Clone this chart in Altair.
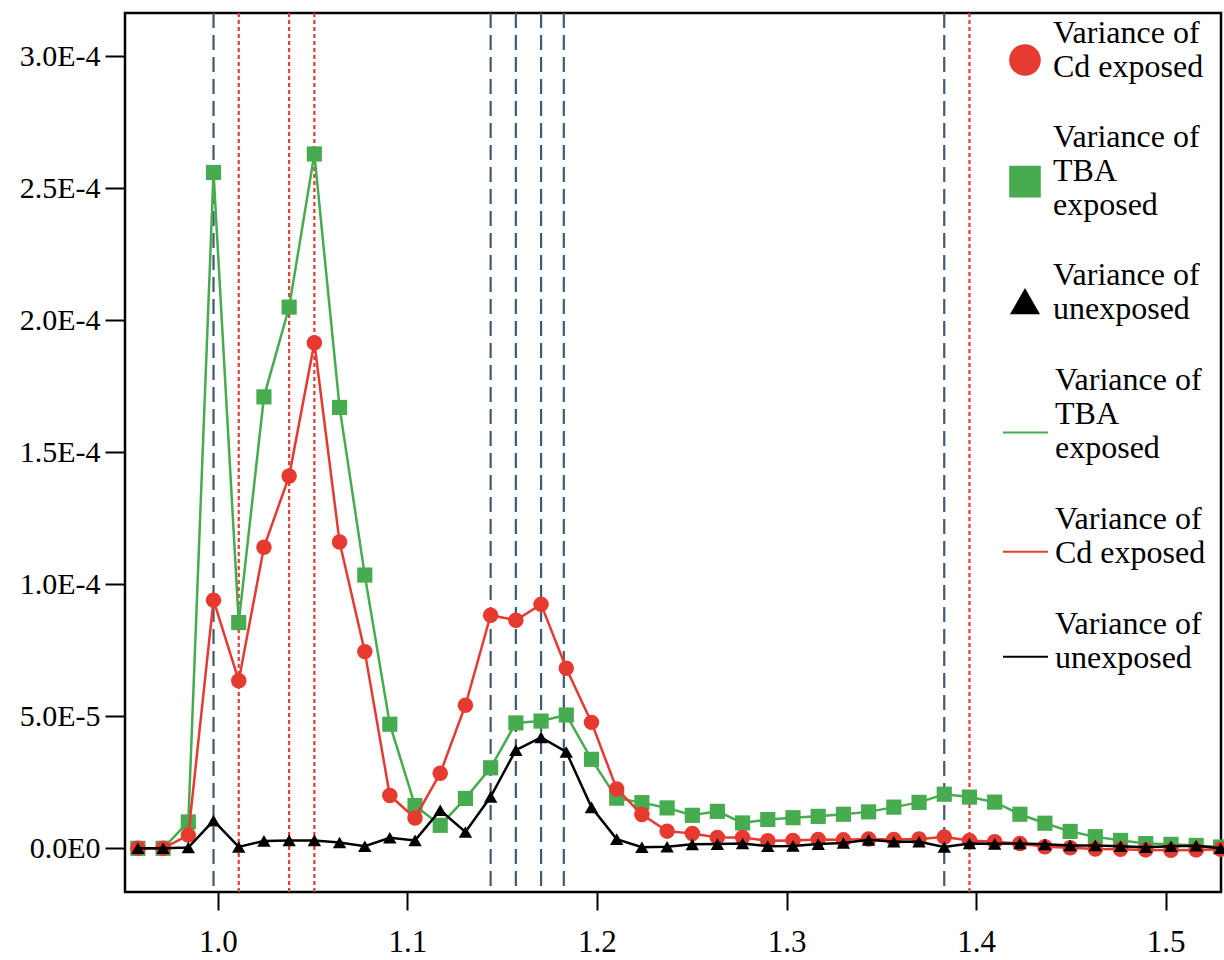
import altair as alt
import pandas as pd

# m/z ratio positions of the sampled points
x_vals = [0.9578, 0.9711, 0.9844, 0.9977, 1.0110, 1.0243, 1.0376, 1.0509, 1.0642, 1.0775,
          1.0907, 1.1040, 1.1173, 1.1306, 1.1439, 1.1572, 1.1705, 1.1838, 1.1971, 1.2104,
          1.2237, 1.2370, 1.2503, 1.2635, 1.2768, 1.2901, 1.3034, 1.3167, 1.3300, 1.3433,
          1.3566, 1.3699, 1.3832, 1.3965, 1.4098, 1.4231, 1.4363, 1.4496, 1.4629, 1.4762,
          1.4895, 1.5028, 1.5161, 1.5290]

# variances, in units of 1e-5
tba_e5 = [0.0, 0.0, 1.0, 25.6, 8.55, 17.1, 20.5, 26.3, 16.7, 10.35,
          4.7, 1.62, 0.87, 1.89, 3.05, 4.75, 4.82, 5.05, 3.37, 1.9,
          1.73, 1.53, 1.25, 1.4, 0.96, 1.09, 1.16, 1.21, 1.29, 1.38,
          1.56, 1.74, 2.05, 1.94, 1.75, 1.29, 0.95, 0.64, 0.44, 0.3,
          0.18, 0.15, 0.11, 0.05]
cd_e5 = [0.0, 0.0, 0.5, 9.4, 6.35, 11.4, 14.1, 19.15, 11.6, 7.45,
         2.0, 1.15, 2.84, 5.42, 8.83, 8.64, 9.24, 6.82, 4.77, 2.25,
         1.28, 0.65, 0.56, 0.41, 0.41, 0.29, 0.3, 0.33, 0.32, 0.35,
         0.33, 0.35, 0.43, 0.3, 0.25, 0.18, 0.06, 0.02, -0.03, -0.04,
         -0.06, -0.07, -0.06, -0.04]
unexp_e5 = [0.0, 0.0, 0.03, 1.05, 0.05, 0.28, 0.3, 0.3, 0.22, 0.08,
            0.4, 0.3, 1.44, 0.62, 1.95, 3.72, 4.2, 3.65, 1.55, 0.35,
            0.04, 0.06, 0.15, 0.16, 0.18, 0.08, 0.09, 0.16, 0.2, 0.32,
            0.25, 0.25, 0.05, 0.18, 0.17, 0.18, 0.15, 0.11, 0.11, 0.08,
            0.04, 0.08, 0.1, 0.0]

blue_lines = [0.9977, 1.1439, 1.1572, 1.1705, 1.1825, 1.3832]
red_lines = [1.0110, 1.0376, 1.0509, 1.3965]

x_ticks = [1.0, 1.1, 1.2, 1.3, 1.4, 1.5]
y_ticks = [0.0, 5e-5, 1e-4, 1.5e-4, 2e-4, 2.5e-4, 3e-4]

RED = "#e63a30"
GREEN = "#47ab4f"
BLACK = "#000000"
BLUE = "#3e5a75"

rows = []
for key, vals in (("TBA", tba_e5), ("Cd", cd_e5), ("Un", unexp_e5)):
    for xv, v in zip(x_vals, vals):
        rows.append({"mz": xv, "var": v * 1e-5, "series": key})
df = pd.DataFrame(rows)

FONT = "Liberation Serif"

x_enc = alt.X("mz:Q", scale=alt.Scale(domain=[0.951, 1.5292], nice=False, zero=False),
              axis=alt.Axis(values=x_ticks, format=".1f", title=None))
y_enc = alt.Y("var:Q", scale=alt.Scale(domain=[-1.655e-5, 3.164e-4], nice=False, zero=False),
              axis=alt.Axis(values=y_ticks, title=None,
                            labelExpr="datum.value == 0 ? '0.0E0' : format(datum.value / pow(10, floor(log(datum.value)/LN10 + 1e-9)), '.1f') + 'E' + floor(log(datum.value)/LN10 + 1e-9)"))

label_expr = ("datum.label == 'Cd' ? ['Variance of', 'Cd exposed'] : "
              "datum.label == 'TBA' ? ['Variance of', 'TBA', 'exposed'] : "
              "['Variance of', 'unexposed']")

pt_symbol = alt.ExprRef(expr=(
    "datum.value == 'Cd' ? 'M-1,0.63A1,1,0,1,1,1,0.63A1,1,0,1,1,-1,0.63Z' : "
    "datum.value == 'TBA' ? 'M-1,0.75L1,0.75L1,2.75L-1,2.75Z' : "
    "'M0,-0.25L0.95,1.4L-0.95,1.4Z'"))
ln_symbol = alt.ExprRef(expr=(
    "datum.value == 'TBA' ? 'M-1,1.6L1,1.6' : 'M-1,0.72L1,0.72'"))

pt_legend = alt.Legend(title=None, orient="none", legendX=884, legendY=21,
                       labelExpr=label_expr, symbolType=pt_symbol,
                       symbolSize=1000, symbolStrokeWidth=0,
                       labelFont=FONT, labelFontSize=32, labelBaseline="bottom",
                       labelColor="black", labelOffset=12, rowPadding=38,
                       labelLimit=400, padding=0)
ln_legend = alt.Legend(title=None, orient="none", legendX=877, legendY=360,
                       labelExpr=label_expr, symbolType=ln_symbol, symbolSize=2025,
                       symbolStrokeWidth=2, labelFont=FONT, labelFontSize=32,
                       labelBaseline="bottom",
                       labelColor="black", labelOffset=6,
                       rowPadding=38, labelLimit=400, padding=0)

color_scale = alt.Scale(domain=["Cd", "TBA", "Un"], range=[RED, GREEN, BLACK])
stroke_scale = alt.Scale(domain=["TBA", "Cd", "Un"], range=[GREEN, RED, BLACK])

rules_blue = alt.Chart(pd.DataFrame({"mz": blue_lines})).mark_rule(
    color=BLUE, strokeDash=[15, 7], strokeWidth=2.2).encode(x=x_enc)
rules_red = alt.Chart(pd.DataFrame({"mz": red_lines})).mark_rule(
    color=RED, strokeDash=[4, 3], strokeWidth=2.2).encode(x=x_enc)

layers = [rules_blue, rules_red]
sizes = {"TBA": 230, "Cd": 240, "Un": 180}
shapes = {"TBA": "square", "Cd": "circle", "Un": "triangle-up"}
for key in ["TBA", "Cd", "Un"]:
    sub = alt.Chart(df).transform_filter(alt.datum.series == key)
    line = sub.mark_line(strokeWidth=2.5).encode(
        x=x_enc, y=y_enc,
        stroke=alt.Stroke("series:N", scale=stroke_scale, legend=ln_legend))
    pts = sub.mark_point(filled=True, opacity=1, size=sizes[key], strokeWidth=0,
                         shape=shapes[key]).encode(
        x=x_enc, y=y_enc,
        color=alt.Color("series:N", scale=color_scale, legend=pt_legend))
    layers += [line, pts]

chart = alt.layer(*layers).properties(
    width=1096, height=879,
    autosize=alt.AutoSizeParams(type="none"),
    padding={"left": 125, "top": 13, "right": 3, "bottom": 68},
    background="white",
).configure_view(
    stroke="black", strokeWidth=2.5
).configure_axis(
    grid=False, domain=False, tickColor="black", tickWidth=2,
    labelFont=FONT, labelColor="black"
).configure_axisX(
    tickSize=18, labelPadding=17, labelFontSize=31
).configure_axisY(
    tickSize=20, labelPadding=5, labelFontSize=30
)

chart.save("out.html", embed_options={"renderer": "svg", "actions": False})
